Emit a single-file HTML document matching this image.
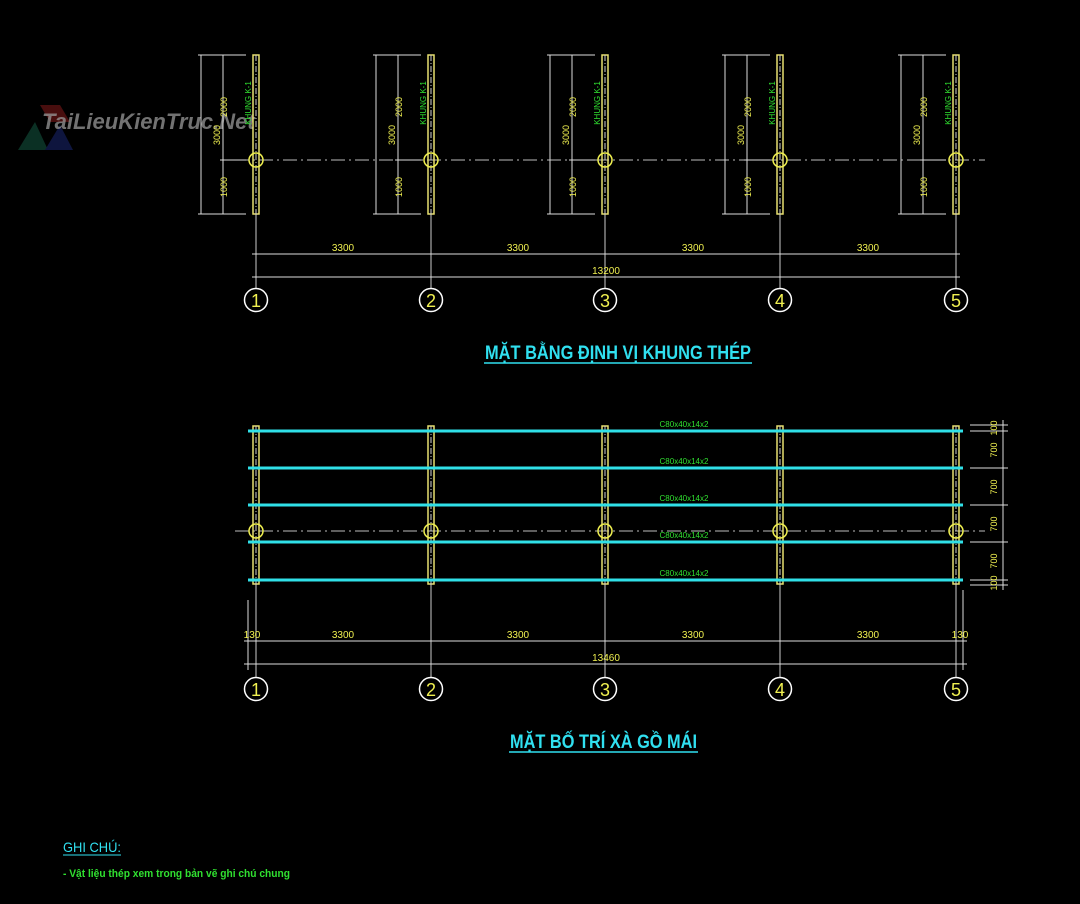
<!DOCTYPE html>
<html><head><meta charset="utf-8"><style>
html,body{margin:0;padding:0;background:#000;width:1080px;height:904px;overflow:hidden}
svg{display:block}
text{font-family:"Liberation Sans Narrow","Liberation Sans",sans-serif}
</style></head><body>
<svg width="1080" height="904" viewBox="0 0 1080 904" xmlns="http://www.w3.org/2000/svg">
<defs>
<g id="tc">
  <line x1="-55" y1="55" x2="-55" y2="214" stroke="#ddd" stroke-width="1"/>
  <line x1="-33" y1="55" x2="-33" y2="214" stroke="#ddd" stroke-width="1"/>
  <line x1="-58" y1="55" x2="-10" y2="55" stroke="#ddd"/>
  <line x1="-58" y1="214" x2="-10" y2="214" stroke="#ddd"/>
  <line x1="-36" y1="160" x2="-10" y2="160" stroke="#ddd"/>
  <rect x="-3" y="55" width="6" height="159" fill="none" stroke="#e8e070" stroke-width="1.5"/>
  <line x1="0" y1="55" x2="0" y2="214" stroke="#ccc" stroke-dasharray="6,2,1,2"/>
  <circle cx="0" cy="160" r="7" fill="none" stroke="#f0f050" stroke-width="1.5"/>
  <line x1="0" y1="214" x2="0" y2="289" stroke="#ccc"/>
  <circle cx="0" cy="300" r="11.5" fill="none" stroke="#fff" stroke-width="1.5"/>
</g>
<g id="bc">
  <rect x="-3" y="426" width="6" height="158" fill="none" stroke="#e8e070" stroke-width="1.5"/>
  <line x1="0" y1="426" x2="0" y2="584" stroke="#ccc" stroke-dasharray="6,2,1,2"/>
  <circle cx="0" cy="531" r="7" fill="none" stroke="#f0f050" stroke-width="1.5"/>
  <line x1="0" y1="584" x2="0" y2="678" stroke="#ccc"/>
  <circle cx="0" cy="689" r="11.5" fill="none" stroke="#fff" stroke-width="1.5"/>
</g>
</defs>

<g opacity="0.45">
  <polygon points="40,105 60,105 70,122 50,122" fill="#a02020"/>
  <polygon points="18,150 35,122 48,150" fill="#1a6a50"/>
  <polygon points="45,150 60,125 73,150" fill="#20308a"/>
</g>
<text x="42" y="129" font-size="22" font-style="italic" font-weight="bold" fill="#999" opacity="0.75" style="font-family:'Liberation Sans',sans-serif">TaiLieuKienTruc.Net</text>

<line x1="235" y1="160" x2="985" y2="160" stroke="#bbb" stroke-dasharray="14,4,2,4"/>
<use href="#tc" x="256"/><use href="#tc" x="431"/><use href="#tc" x="605"/><use href="#tc" x="780"/><use href="#tc" x="956"/>
<line x1="252" y1="254" x2="960" y2="254" stroke="#ddd"/>
<line x1="252" y1="277" x2="960" y2="277" stroke="#ddd"/>
<g fill="#f0f050" font-size="10" text-anchor="middle">
<text x="343" y="251">3300</text><text x="518" y="251">3300</text><text x="693" y="251">3300</text><text x="868" y="251">3300</text>
<text x="606" y="274">13200</text>
</g>
<g fill="#f0f050" font-size="18" text-anchor="middle">
<text x="256" y="307">1</text><text x="431" y="307">2</text><text x="605" y="307">3</text><text x="780" y="307">4</text><text x="956" y="307">5</text>
</g>
<g fill="#f0f050" font-size="9" text-anchor="middle">
<text transform="translate(220,135) rotate(-90)">3000</text><text transform="translate(395,135) rotate(-90)">3000</text><text transform="translate(569,135) rotate(-90)">3000</text><text transform="translate(744,135) rotate(-90)">3000</text><text transform="translate(920,135) rotate(-90)">3000</text>
<text transform="translate(227,107) rotate(-90)">2000</text><text transform="translate(402,107) rotate(-90)">2000</text><text transform="translate(576,107) rotate(-90)">2000</text><text transform="translate(751,107) rotate(-90)">2000</text><text transform="translate(927,107) rotate(-90)">2000</text>
<text transform="translate(227,187) rotate(-90)">1000</text><text transform="translate(402,187) rotate(-90)">1000</text><text transform="translate(576,187) rotate(-90)">1000</text><text transform="translate(751,187) rotate(-90)">1000</text><text transform="translate(927,187) rotate(-90)">1000</text>
</g>
<g fill="#30e030" font-size="8" text-anchor="middle">
<text transform="translate(251,103) rotate(-90)">KHUNG K-1</text><text transform="translate(426,103) rotate(-90)">KHUNG K-1</text><text transform="translate(600,103) rotate(-90)">KHUNG K-1</text><text transform="translate(775,103) rotate(-90)">KHUNG K-1</text><text transform="translate(951,103) rotate(-90)">KHUNG K-1</text>
</g>
<text x="485" y="359" fill="#30e0f0" font-size="19" font-weight="bold" textLength="266" lengthAdjust="spacingAndGlyphs">MẶT BẰNG ĐỊNH VỊ KHUNG THÉP</text>
<line x1="484" y1="363" x2="752" y2="363" stroke="#30e0f0" stroke-width="1.5"/>

<line x1="235" y1="531" x2="985" y2="531" stroke="#bbb" stroke-dasharray="14,4,2,4"/>
<use href="#bc" x="256"/><use href="#bc" x="431"/><use href="#bc" x="605"/><use href="#bc" x="780"/><use href="#bc" x="956"/>
<g stroke="#30e0e8" stroke-width="3">
<line x1="248" y1="431" x2="963" y2="431"/><line x1="248" y1="468" x2="963" y2="468"/><line x1="248" y1="505" x2="963" y2="505"/><line x1="248" y1="542" x2="963" y2="542"/><line x1="248" y1="580" x2="963" y2="580"/>
</g>
<g fill="#30e030" font-size="8" text-anchor="middle">
<text x="684" y="427">C80x40x14x2</text><text x="684" y="464">C80x40x14x2</text><text x="684" y="501">C80x40x14x2</text><text x="684" y="538">C80x40x14x2</text><text x="684" y="576">C80x40x14x2</text>
</g>
<g stroke="#ddd">
<line x1="970" y1="425" x2="1008" y2="425"/><line x1="970" y1="431" x2="1008" y2="431"/><line x1="970" y1="468" x2="1008" y2="468"/><line x1="970" y1="505" x2="1008" y2="505"/><line x1="970" y1="542" x2="1008" y2="542"/><line x1="970" y1="580" x2="1008" y2="580"/><line x1="970" y1="585" x2="1008" y2="585"/>
<line x1="1003" y1="420" x2="1003" y2="590"/>
<line x1="963" y1="590" x2="963" y2="670"/>
<line x1="248" y1="600" x2="248" y2="670"/>
<line x1="244" y1="641" x2="967" y2="641"/>
<line x1="244" y1="664" x2="967" y2="664"/>
</g>
<g fill="#f0f050" font-size="9" text-anchor="middle">
<text transform="translate(997,428) rotate(-90)">100</text><text transform="translate(997,450) rotate(-90)">700</text><text transform="translate(997,487) rotate(-90)">700</text><text transform="translate(997,524) rotate(-90)">700</text><text transform="translate(997,561) rotate(-90)">700</text><text transform="translate(997,583) rotate(-90)">100</text>
</g>
<g fill="#f0f050" font-size="10" text-anchor="middle">
<text x="252" y="638">130</text><text x="343" y="638">3300</text><text x="518" y="638">3300</text><text x="693" y="638">3300</text><text x="868" y="638">3300</text><text x="960" y="638">130</text>
<text x="606" y="661">13460</text>
</g>
<g fill="#f0f050" font-size="18" text-anchor="middle">
<text x="256" y="696">1</text><text x="431" y="696">2</text><text x="605" y="696">3</text><text x="780" y="696">4</text><text x="956" y="696">5</text>
</g>
<text x="510" y="748" fill="#30e0f0" font-size="19" font-weight="bold" textLength="187" lengthAdjust="spacingAndGlyphs">MẶT BỐ TRÍ XÀ GỒ MÁI</text>
<line x1="509" y1="752" x2="698" y2="752" stroke="#30e0f0" stroke-width="1.5"/>

<text x="63" y="852" fill="#30e0f0" font-size="14" textLength="58" lengthAdjust="spacingAndGlyphs">GHI CHÚ:</text>
<line x1="63" y1="855" x2="121" y2="855" stroke="#30e0f0"/>
<text x="63" y="877" fill="#30e030" font-size="11" font-weight="bold" textLength="227" lengthAdjust="spacingAndGlyphs">- Vật liệu thép xem trong bản vẽ ghi chú chung</text>
</svg>
</body></html>
